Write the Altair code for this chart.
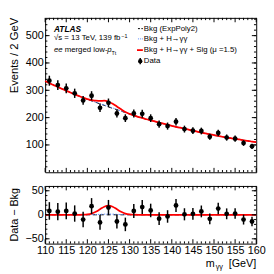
import altair as alt
import pandas as pd

FONT = "Liberation Sans"

# ---------------- data ----------------
bin_centers = [111, 113, 115, 117, 119, 121, 123, 125, 127, 129, 131, 133, 135,
               137, 139, 141, 143, 145, 147, 149, 151, 153, 155, 157, 159]
events = [335, 319, 307, 289, 263, 280, 236, 254, 215, 198, 215, 214, 198,
          176, 169, 185, 158, 152, 151, 130, 144, 127, 123, 107, 95]
event_err = [18.3, 17.9, 17.5, 17.0, 16.2, 16.7, 15.4, 15.9, 14.7, 14.1, 14.7, 14.6, 14.1,
             13.3, 13.0, 13.6, 12.6, 12.3, 12.3, 11.4, 12.0, 11.3, 11.1, 10.3, 9.7]
residual = [8, 6.5, 8, 2.6, -10, 18, -16, 15, -14, -20, 8, 16, 9,
            -8, -3.5, 19.5, 1, 2, 7, -8.5, 13, 2, 2.6, -10, -14]

curve_m = [110, 111, 112, 113, 114, 115, 116, 117, 118, 119, 120, 121, 122, 123, 124, 125,
           126, 127, 128, 129, 130, 131, 132, 133, 134, 135, 136, 137, 138, 139, 140, 141,
           142, 143, 144, 145, 146, 147, 148, 149, 150, 151, 152, 153, 154, 155, 156, 157,
           158, 159, 160]
bkg = [334, 326, 319, 312, 305, 298, 292, 285, 279, 273, 267, 261, 256, 250, 245, 239,
       234, 229, 224, 218, 213, 208, 203, 199, 194, 190, 186, 182, 178, 174, 170, 166,
       163, 159, 156, 152, 149, 145, 142, 139, 136, 133, 130, 127, 125, 122, 120, 117,
       115, 112, 110]
higgs = [0, 0, 0, 0, 0, 0, 0, 0, 0, 0, 0, 0.2, 0.5, 0.9, 1.3, 1.5,
         1.3, 0.9, 0.5, 0.2, 0, 0, 0, 0, 0, 0, 0, 0, 0, 0, 0, 0,
         0, 0, 0, 0, 0, 0, 0, 0, 0, 0, 0, 0, 0, 0, 0, 0,
         0, 0, 0]
higgs_sig = [0, 0, 0, 0, 0, 0, 0, 0, 0, 0.2, 0.8, 2.6, 6.2, 11.5, 16.8, 19,
             16.8, 11.5, 6.2, 2.6, 0.8, 0.2, 0, 0, 0, 0, 0, 0, 0, 0, 0, 0,
             0, 0, 0, 0, 0, 0, 0, 0, 0, 0, 0, 0, 0, 0, 0, 0,
             0, 0, 0]

x_major = [110, 115, 120, 125, 130, 135, 140, 145, 150, 155, 160]
x_minor = [m for m in range(111, 160) if m % 5]
main_y_labels = [100, 200, 300, 400, 500]
main_y_minor = list(range(20, 561, 20))
res_y_labels = [-50, 0, 50]
res_y_minor = list(range(-50, 51, 10))

legend_labels = ["Bkg (ExpPoly2)", "Bkg + H\u2192\u03b3\u03b3",
                 "Bkg + H\u2192\u03b3\u03b3 + Sig (\u03bc =1.5)", "Data"]

# ---------------- layout ----------------
W, H1, H2 = 216, 158, 59
xs = alt.Scale(domain=[110, 160], nice=False, zero=False)
ys1 = alt.Scale(domain=[0, 565], nice=False, zero=False)
ys2 = alt.Scale(domain=[-60, 60], nice=False, zero=False)

LAB = dict(domain=False, ticks=False, grid=False, title=None, labelFont=FONT,
           labelFontSize=11, labelColor="black")
ax_y1 = alt.Axis(values=main_y_labels, labelPadding=2, **LAB)
ax_y2 = alt.Axis(values=res_y_labels, labelPadding=2, **LAB)
ax_x2 = alt.Axis(values=x_major, labelOverlap=False, labelFlush=False, format="d",
                 labelPadding=1, **LAB)

curves = pd.DataFrame({
    "m": curve_m,
    "bkg": bkg,
    "bkg_h": [b + h for b, h in zip(bkg, higgs)],
    "bkg_hs": [b + s for b, s in zip(bkg, higgs_sig)],
    "zero": [b - b for b in bkg],
    "h": higgs,
    "hs": higgs_sig,
})
pts = pd.DataFrame({
    "m": bin_centers,
    "n": events,
    "lo": [n - e for n, e in zip(events, event_err)],
    "hi": [n + e for n, e in zip(events, event_err)],
    "r": residual,
    "rlo": [r - e for r, e in zip(residual, event_err)],
    "rhi": [r + e for r, e in zip(residual, event_err)],
})

MAJ, MIN = 4.5, 2.3


def tick_layers(ymaj, ymin, yscale, yaxis, xaxis, H):
    layers = []
    for vals, L in ((x_major, MAJ), (x_minor, MIN)):
        df = pd.DataFrame({"v": vals})
        for y0, y1 in ((H, H - L), (0, L)):
            layers.append(alt.Chart(df).mark_rule(color="black", strokeWidth=1).encode(
                x=alt.X("v:Q", scale=xs, axis=xaxis),
                y=alt.value(y0), y2=alt.value(y1)))
    for vals, L in ((ymaj, MAJ), (ymin, MIN)):
        df = pd.DataFrame({"v": vals})
        for x0, x1 in ((0, L), (W, W - L)):
            layers.append(alt.Chart(df).mark_rule(color="black", strokeWidth=1).encode(
                y=alt.Y("v:Q", scale=yscale, axis=yaxis),
                x=alt.value(x0), x2=alt.value(x1)))
    return layers


def text(t, x, y, size=8, **kw):
    return alt.Chart(pd.DataFrame({"t": [t]})).mark_text(
        font=FONT, fontSize=size, color="black", **kw).encode(
        text="t:N", x=alt.value(x), y=alt.value(y))


def seg(x0, x1, y, **kw):
    return alt.Chart(pd.DataFrame({"a": [0]})).mark_rule(**kw).encode(
        x=alt.value(x0), x2=alt.value(x1), y=alt.value(y))


# ---------------- main panel ----------------
base1 = alt.Chart(curves)
bkg_line = base1.mark_line(color="black", strokeWidth=1, strokeDash=[4, 3]).encode(
    x=alt.X("m:Q", scale=xs, axis=None),
    y=alt.Y("bkg:Q", scale=ys1, axis=ax_y1))
h_line = base1.mark_line(color="#5b8cff", strokeWidth=1, strokeDash=[1.5, 1.5]).encode(
    x=alt.X("m:Q", scale=xs, axis=None),
    y=alt.Y("bkg_h:Q", scale=ys1, axis=ax_y1))
hs_line = base1.mark_line(color="#ff0000", strokeWidth=1.8, interpolate="monotone").encode(
    x=alt.X("m:Q", scale=xs, axis=None),
    y=alt.Y("bkg_hs:Q", scale=ys1, axis=ax_y1))
err1 = alt.Chart(pts).mark_rule(color="black", strokeWidth=1.5).encode(
    x=alt.X("m:Q", scale=xs, axis=None),
    y=alt.Y("lo:Q", scale=ys1, axis=ax_y1), y2="hi:Q")
dots1 = alt.Chart(pts).mark_circle(color="black", size=24, opacity=1).encode(
    x=alt.X("m:Q", scale=xs, axis=None),
    y=alt.Y("n:Q", scale=ys1, axis=ax_y1))

LX0, LX1, LT = 95, 100, 101
legend = [
    seg(LX0, LX1, 11, color="black", strokeWidth=1, strokeDash=[2, 1.5]),
    text(legend_labels[0], LT, 11, align="left", baseline="middle"),
    seg(LX0, LX1, 21.5, color="#5b8cff", strokeWidth=1, strokeDash=[1, 1]),
    text(legend_labels[1], LT, 21.5, align="left", baseline="middle"),
    seg(LX0 - 1, LX1, 33, color="#ff0000", strokeWidth=1.8),
    text(legend_labels[2], LT, 33, align="left", baseline="middle"),
    alt.Chart(pd.DataFrame({"a": [0]})).mark_rule(color="black", strokeWidth=1.5).encode(
        x=alt.value(97.3), y=alt.value(41), y2=alt.value(47.5)),
    alt.Chart(pd.DataFrame({"a": [0]})).mark_circle(color="black", size=20, opacity=1).encode(
        x=alt.value(97.3), y=alt.value(44.3)),
    text(legend_labels[3], LT, 44.3, align="left", baseline="middle"),
]

atlas = [
    text("ATLAS", 9, 11, size=8.5, fontWeight="bold", fontStyle="italic",
         align="left", baseline="middle"),
    text("\u221as = 13 TeV, 139 fb", 9, 21, align="left", baseline="middle"),
    text("\u22121", 78, 18.5, size=5.5, align="left", baseline="middle"),
    text("ee", 9, 32.7, fontStyle="italic", align="left", baseline="middle"),
    text("merged low-", 20, 32.7, align="left", baseline="middle"),
    text("p", 63.5, 32.7, fontStyle="italic", align="left", baseline="middle"),
    text("Tt", 68, 35.5, size=5.5, align="left", baseline="middle"),
]

ytitle1 = text("Events / 2 GeV", -31, 0, size=11.5, angle=270, align="right",
               baseline="middle")

main = alt.layer(
    bkg_line, h_line, hs_line, err1, dots1,
    *tick_layers(main_y_labels, main_y_minor, ys1, ax_y1, None, H1),
    *legend, *atlas, ytitle1,
).properties(width=W, height=H1)

# ---------------- residual panel ----------------
base2 = alt.Chart(curves)
zero_line = base2.mark_line(color="black", strokeWidth=1, strokeDash=[4, 3]).encode(
    x=alt.X("m:Q", scale=xs, axis=ax_x2),
    y=alt.Y("zero:Q", scale=ys2, axis=ax_y2))
h2_line = base2.mark_line(color="#5b8cff", strokeWidth=1, strokeDash=[1.5, 1.5]).encode(
    x=alt.X("m:Q", scale=xs, axis=ax_x2),
    y=alt.Y("h:Q", scale=ys2, axis=ax_y2))
hs2_line = base2.mark_line(color="#ff0000", strokeWidth=1.8, interpolate="monotone").encode(
    x=alt.X("m:Q", scale=xs, axis=ax_x2),
    y=alt.Y("hs:Q", scale=ys2, axis=ax_y2))
err2 = alt.Chart(pts).mark_rule(color="black", strokeWidth=1.5).encode(
    x=alt.X("m:Q", scale=xs, axis=ax_x2),
    y=alt.Y("rlo:Q", scale=ys2, axis=ax_y2), y2="rhi:Q")
dots2 = alt.Chart(pts).mark_circle(color="black", size=24, opacity=1).encode(
    x=alt.X("m:Q", scale=xs, axis=ax_x2),
    y=alt.Y("r:Q", scale=ys2, axis=ax_y2))

ytitle2 = text("Data \u2212 Bkg", -31, H2 / 2, size=11, angle=270, align="center",
               baseline="middle")
xtitle = [
    text("m", 173.5, 79.5, size=11, align="right", baseline="middle"),
    text("\u03b3\u03b3", 182, 82.5, size=7.5, align="right", baseline="middle"),
    text("[GeV]", W, 79.5, size=11, align="right", baseline="middle"),
]

lower = alt.layer(
    zero_line, h2_line, hs2_line, err2, dots2,
    *tick_layers(res_y_labels, res_y_minor, ys2, ax_y2, ax_x2, H2),
    ytitle2, *xtitle,
).properties(width=W, height=H2)

chart = alt.vconcat(main, lower, spacing=11).properties(
    padding={"left": 0, "top": 6, "right": 0, "bottom": 0}
).configure_view(stroke="black", strokeWidth=1)

chart.save("out.html", embed_options={"renderer": "svg", "actions": False})
